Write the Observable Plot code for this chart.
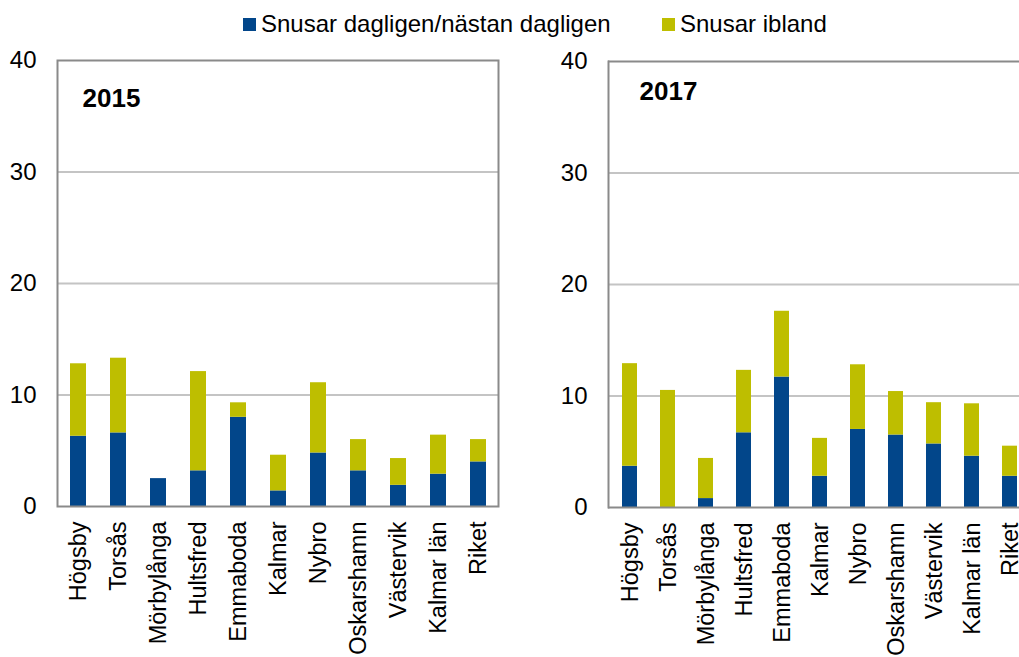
<!DOCTYPE html>
<html>
<head>
<meta charset="utf-8">
<script src="https://cdn.jsdelivr.net/npm/d3@7"></script>
<script src="https://cdn.jsdelivr.net/npm/@observablehq/plot@0.6"></script>
<style>
  html, body { margin: 0; padding: 0; background: #fff; overflow: hidden; width: 1019px; height: 657px; }
  body { font-family: "Liberation Sans", Arial, sans-serif; position: relative; }
  #legend { position: relative; height: 40px; width: 1019px; }
  .item { position: absolute; top: 11px; display: flex; align-items: center; font-size: 24px; line-height: 26px; color: #000; white-space: nowrap; }
  .sw { width: 13px; height: 13px; margin-right: 5px; }
  #charts { position: absolute; top: 40px; left: 0; width: 1019px; height: 617px; overflow: hidden; }
  #c1 { position: absolute; left: 0; top: 0; width: 550px; }
  #c2 { position: absolute; left: 550px; top: 0; width: 469px; }
  svg { max-width: none !important; display: block; }
</style>
</head>
<body>
<div id="legend"></div>
<div id="charts"><div id="c1"></div><div id="c2"></div></div>
<script>
const categories = ["Högsby", "Torsås", "Mörbylånga", "Hultsfred", "Emmaboda", "Kalmar", "Nybro", "Oskarshamn", "Västervik", "Kalmar län", "Riket"];
const seriesNames = ["Snusar dagligen/nästan dagligen", "Snusar ibland"];
const seriesColors = ["#02468A", "#BEBE00"];
const daily2015 = [6.3, 6.6, 2.5, 3.2, 8.0, 1.4, 4.8, 3.2, 1.9, 2.9, 4.0];
const occasional2015 = [6.5, 6.7, 0.0, 8.9, 1.3, 3.2, 6.3, 2.8, 2.4, 3.5, 2.0];
const daily2017 = [3.7, 0.0, 0.8, 6.7, 11.7, 2.8, 7.0, 6.5, 5.7, 4.6, 2.8];
const occasional2017 = [9.2, 10.5, 3.6, 5.6, 5.9, 3.4, 5.8, 3.9, 3.7, 4.7, 2.7];
const yTicks = [0, 10, 20, 30, 40];

// legend
const legend = document.getElementById("legend");
const legendLeft = [243, 662];
seriesNames.forEach((name, i) => {
  const it = document.createElement("div");
  it.className = "item";
  it.style.left = legendLeft[i] + "px";
  const sw = document.createElement("div");
  sw.className = "sw";
  sw.style.background = seriesColors[i];
  it.appendChild(sw);
  const t = document.createElement("span");
  t.textContent = name;
  it.appendChild(t);
  legend.appendChild(it);
});

function rows(daily, occ) {
  const out = [];
  categories.forEach((c, i) => {
    out.push({cat: c, series: seriesNames[0], value: daily[i]});
    out.push({cat: c, series: seriesNames[1], value: occ[i]});
  });
  return out;
}

function panel({daily, occ, title, width, marginLeft, marginRight, marginTop, marginBottom, dx, dy, xRange, openRight}) {
  const data = rows(daily, occ);
  const frameMarks = openRight
    ? [
        Plot.ruleY([0, 40], {stroke: "#8a8a8a", strokeWidth: 2}),
        Plot.frame({anchor: "left", stroke: "#8a8a8a", strokeWidth: 2})
      ]
    : [Plot.frame({stroke: "#8a8a8a", strokeWidth: 2})];
  return Plot.plot({
    width, height: 617, marginLeft, marginRight, marginTop, marginBottom,
    style: {fontFamily: "'Liberation Sans', Arial, sans-serif", fontSize: "24px", color: "#000", background: "transparent", maxWidth: "none", overflow: "hidden"},
    x: {domain: categories, paddingInner: 0.6, paddingOuter: 0.3, label: null, ...(xRange ? {range: xRange} : {})},
    y: {domain: [0, 40], ticks: yTicks, label: null},
    color: {domain: seriesNames, range: seriesColors},
    marks: [
      Plot.gridY(yTicks.filter(d => d > 0 && d < 40), {stroke: "#c4c4c4", strokeOpacity: 1, strokeWidth: 2}),
      Plot.barY(data, {x: "cat", y: "value", fill: "series", order: seriesNames}),
      ...frameMarks,
      Plot.axisY({ticks: yTicks, tickSize: 0, tickPadding: 21, label: null, fontSize: 24}),
      Plot.axisX({tickSize: 0, tickRotate: -90, tickPadding: 15, label: null, fontSize: 23.5}),
      Plot.text([title], {frameAnchor: "top-left", dx, dy, text: d => d, fontWeight: "bold", fontSize: 26, textAnchor: "start", lineAnchor: "top", fill: "#000"})
    ]
  });
}

document.getElementById("c1").appendChild(panel({
  daily: daily2015, occ: occasional2015, title: "2015",
  width: 550, marginLeft: 57, marginRight: 52, marginTop: 20, marginBottom: 151, dx: 25, dy: 28
}));
document.getElementById("c2").appendChild(panel({
  daily: daily2017, occ: occasional2017, title: "2017",
  width: 469, marginLeft: 58, marginRight: 0, marginTop: 21, marginBottom: 150, dx: 31, dy: 20,
  xRange: [58, 482], openRight: true
}));
</script>
</body>
</html>
